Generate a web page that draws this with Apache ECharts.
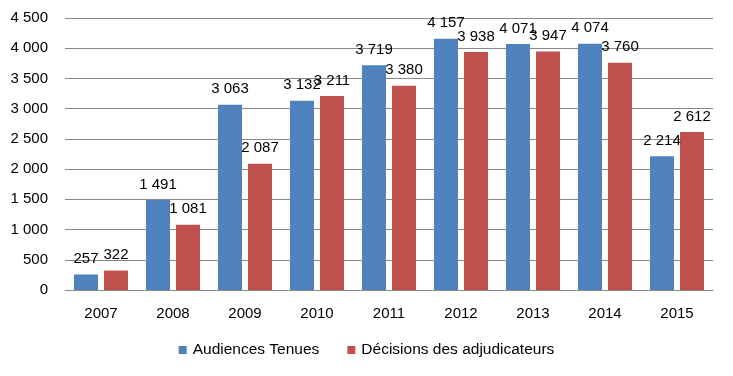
<!DOCTYPE html>
<html>
<head>
<meta charset="utf-8">
<script src="https://cdn.jsdelivr.net/npm/echarts@6/dist/echarts.min.js"></script>
<style>html,body{margin:0;padding:0;background:#fff}#c{width:733px;height:376px}</style>
</head>
<body>
<div id="c"></div>
<script>
const categories = ['2007','2008','2009','2010','2011','2012','2013','2014','2015'];
const audiences = [257, 1491, 3063, 3132, 3719, 4157, 4071, 4074, 2214];
const decisions = [322, 1081, 2087, 3211, 3380, 3938, 3947, 3760, 2612];
const seriesNames = ['Audiences Tenues', 'Décisions des adjudicateurs'];

const fmt = v => String(v).replace(/\B(?=(\d{3})+(?!\d))/g, ' ');
const FONT = 'Liberation Sans';
const chart = echarts.init(document.getElementById('c'), null, {renderer: 'canvas'});
const labelCfg = {
  show: true, position: 'top', distance: 8,
  color: '#000', fontSize: 15, fontFamily: FONT,
  formatter: p => fmt(p.value)
};
chart.setOption({
  animation: false,
  backgroundColor: '#fff',
  textStyle: {fontFamily: FONT},
  grid: {left: 65, right: 20, top: 18, bottom: 86, containLabel: false},
  legend: {
    bottom: 13, left: 'center', itemWidth: 8, itemHeight: 8, itemGap: 28,
    icon: 'rect',
    textStyle: {fontSize: 15.5, color: '#000', fontFamily: FONT, padding: [0, 0, 0, 1]},
    data: seriesNames
  },
  xAxis: {
    type: 'category', data: categories,
    axisLine: {lineStyle: {color: '#888', width: 1}},
    axisTick: {show: false},
    axisLabel: {color: '#000', fontSize: 15, fontFamily: FONT, margin: 16}
  },
  yAxis: {
    type: 'value', min: 0, max: 4500, interval: 500,
    axisLine: {show: false}, axisTick: {show: false},
    splitLine: {lineStyle: {color: '#888', width: 1}},
    axisLabel: {color: '#000', fontSize: 15, fontFamily: FONT, margin: 17, formatter: v => fmt(v)}
  },
  series: [
    {name: seriesNames[0], type: 'bar', data: audiences, barWidth: 24, barGap: '25%',
     itemStyle: {color: '#4F81BD'}, label: labelCfg},
    {name: seriesNames[1], type: 'bar', data: decisions, barWidth: 24, barGap: '25%',
     itemStyle: {color: '#C0504D'}, label: labelCfg}
  ]
});
</script>
</body>
</html>
